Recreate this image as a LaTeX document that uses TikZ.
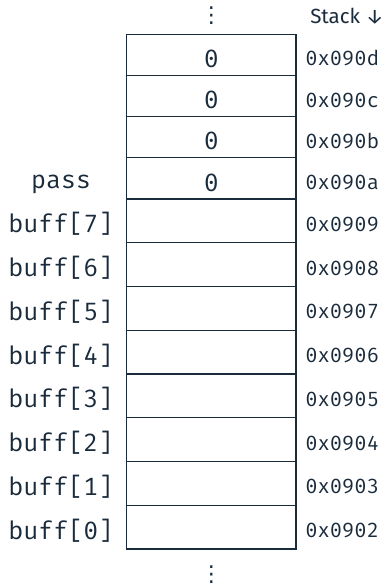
\documentclass[tikz,border=0pt]{standalone}
\usepackage{fontspec}
\setmainfont{Fira Sans}
\newfontfamily\monofont{Fira Mono}
\newfontfamily\symfont{DejaVu Sans}
\definecolor{ink}{HTML}{1A2B3C}
\tikzset{
  cell/.style={draw=ink, line width=1.2pt, minimum width=169.3pt, inner sep=0pt, outer sep=0pt, anchor=north},
  topcell/.style={cell, minimum height=41.175pt},
  botcell/.style={cell, minimum height=43.75pt},
  big/.style={font=\monofont\fontsize{25}{25}\selectfont, text=ink, inner sep=0pt, anchor=base},
  addr/.style={font=\monofont\fontsize{20.5}{20.5}\selectfont, text=ink, inner sep=0pt, anchor=base west},
  vdots/.style={font=\symfont\fontsize{22}{22}\selectfont, text=ink, inner sep=0pt, anchor=center},
  head/.style={font=\fontsize{20.5}{20.5}\selectfont, text=ink, inner sep=0pt, anchor=base west}
}
\begin{document}
\begin{tikzpicture}[x=1pt, y=-1pt]
\useasboundingbox (0,0) rectangle (383,586);
% cells
\node[topcell] (r0) at (211.4,34.3) {};
\node[topcell] (r1) at (r0.south) {};
\node[topcell] (r2) at (r1.south) {};
\node[topcell] (r3) at (r2.south) {};
\node[botcell] (r4) at (r3.south) {};
\node[botcell] (r5) at (r4.south) {};
\node[botcell] (r6) at (r5.south) {};
\node[botcell] (r7) at (r6.south) {};
\node[botcell] (r8) at (r7.south) {};
\node[botcell] (r9) at (r8.south) {};
\node[botcell] (r10) at (r9.south) {};
\node[botcell] (r11) at (r10.south) {};
% values
\node[big] (v0) at ([yshift=8pt]r0.south) {0};
\node[big] (v1) at ([yshift=8pt]r1.south) {0};
\node[big] (v2) at ([yshift=8pt]r2.south) {0};
\node[big] (v3) at ([yshift=8pt]r3.south) {0};
% addresses
\node[addr] (a0) at ([xshift=9pt,yshift=9.5pt]r0.south east) {0x090d};
\node[addr] (a1) at ([xshift=9pt,yshift=9.5pt]r1.south east) {0x090c};
\node[addr] (a2) at ([xshift=9pt,yshift=9.5pt]r2.south east) {0x090b};
\node[addr] (a3) at ([xshift=9pt,yshift=9.5pt]r3.south east) {0x090a};
\node[addr] (a4) at ([xshift=9pt,yshift=11.5pt]r4.south east) {0x0909};
\node[addr] (a5) at ([xshift=9pt,yshift=11.5pt]r5.south east) {0x0908};
\node[addr] (a6) at ([xshift=9pt,yshift=11.5pt]r6.south east) {0x0907};
\node[addr] (a7) at ([xshift=9pt,yshift=11.5pt]r7.south east) {0x0906};
\node[addr] (a8) at ([xshift=9pt,yshift=11.5pt]r8.south east) {0x0905};
\node[addr] (a9) at ([xshift=9pt,yshift=11.5pt]r9.south east) {0x0904};
\node[addr] (a10) at ([xshift=9pt,yshift=11.5pt]r10.south east) {0x0903};
\node[addr] (a11) at ([xshift=9pt,yshift=11.5pt]r11.south east) {0x0902};
% left labels
\node[big] (l3) at ([xshift=-150.4pt,yshift=10.5pt]r3.south) {pass};
\node[big] (l4) at ([xshift=-150.4pt,yshift=10pt]r4.south) {buff[7]};
\node[big] (l5) at ([xshift=-150.4pt,yshift=10pt]r5.south) {buff[6]};
\node[big] (l6) at ([xshift=-150.4pt,yshift=10pt]r6.south) {buff[5]};
\node[big] (l7) at ([xshift=-150.4pt,yshift=10pt]r7.south) {buff[4]};
\node[big] (l8) at ([xshift=-150.4pt,yshift=10pt]r8.south) {buff[3]};
\node[big] (l9) at ([xshift=-150.4pt,yshift=10pt]r9.south) {buff[2]};
\node[big] (l10) at ([xshift=-150.4pt,yshift=10pt]r10.south) {buff[1]};
\node[big] (l11) at ([xshift=-150.4pt,yshift=10pt]r11.south) {buff[0]};
% header and ellipses
\node[head] (stk) at ([xshift=14pt,yshift=11pt]r0.north east) {Stack ↓};
\node[vdots] (dtop) at ([yshift=18.8pt]r0.north) {⋮};
\node[vdots] (dbot) at ([yshift=-26pt]r11.south) {⋮};
\end{tikzpicture}
\end{document}
